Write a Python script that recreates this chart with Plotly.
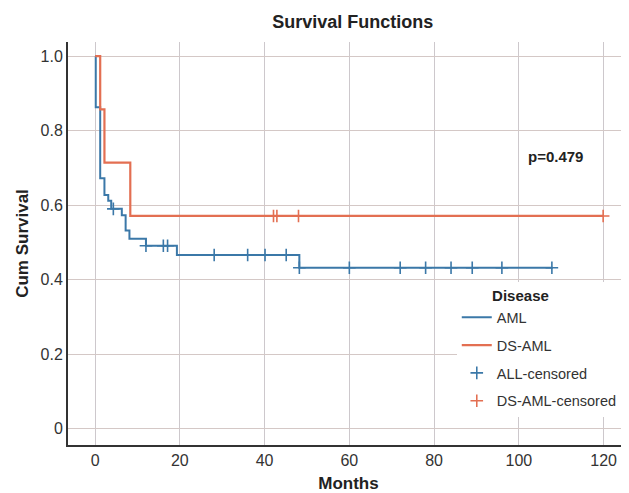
import plotly.graph_objects as go

# ---- data ----
aml_times = [0, 0.15, 1.2, 2.2, 3.1, 3.8, 6.3, 7.2, 8.1, 12.0, 19.3, 48.2, 108.0]
aml_surv = [1.0, 0.863, 0.672, 0.627, 0.612, 0.59, 0.573, 0.532, 0.51, 0.491, 0.466, 0.432, 0.432]
aml_censor_times = [4.3, 12.0, 16.1, 17.1, 28.1, 36.0, 40.1, 45.1, 48.2, 60.0, 72.0, 78.0, 84.0, 89.0, 96.0, 107.8]

dsaml_times = [0, 1.2, 2.2, 8.3, 120.0]
dsaml_surv = [1.0, 0.857, 0.714, 0.571, 0.571]
dsaml_censor_times = [42.1, 42.9, 48.0, 119.9]

x_ticks = [0, 20, 40, 60, 80, 100, 120]
y_ticks = [0, 0.2, 0.4, 0.6, 0.8, 1.0]
y_ticktext = ["0", "0.2", "0.4", "0.6", "0.8", "1.0"]
p_text = "p=0.479"

BLUE = "#3b78a8"
RED = "#e36f52"
FONT = "Liberation Sans, Arial, sans-serif"


def step_value(times, surv, t):
    idx = 0
    for i, tt in enumerate(times):
        if tt <= t:
            idx = i
    return surv[idx]


aml_censor_surv = [step_value(aml_times, aml_surv, t) for t in aml_censor_times]
dsaml_censor_surv = [step_value(dsaml_times, dsaml_surv, t) for t in dsaml_censor_times]

fig = go.Figure()
fig.add_trace(go.Scatter(x=aml_times, y=aml_surv, mode="lines", line=dict(color=BLUE, width=2, shape="hv"),
                         name="AML", legendgroup="a"))
fig.add_trace(go.Scatter(x=dsaml_times, y=dsaml_surv, mode="lines", line=dict(color=RED, width=2.2, shape="hv"),
                         name="DS-AML", legendgroup="b"))
fig.add_trace(go.Scatter(x=aml_censor_times, y=aml_censor_surv, mode="markers",
                         marker=dict(symbol="cross-thin", size=9, line=dict(color=BLUE, width=1.6), color=BLUE),
                         name="ALL-censored", legendgroup="c"))
fig.add_trace(go.Scatter(x=dsaml_censor_times, y=dsaml_censor_surv, mode="markers",
                         marker=dict(symbol="cross-thin", size=9, line=dict(color=RED, width=1.6), color=RED),
                         name="DS-AML-censored", legendgroup="d"))

fig.add_annotation(x=108.6, y=0.73, text="<b>" + p_text + "</b>", showarrow=False,
                   font=dict(size=15, color="#222", family=FONT))

# page body has an 8px default margin, so the figure is sized to fit the window
fig.update_layout(
    width=621, height=485,
    margin=dict(l=60, r=0, t=34, b=48, autoexpand=False),
    paper_bgcolor="white", plot_bgcolor="white",
    font=dict(family=FONT, color="#333"),
    title=dict(text="<b>Survival Functions</b>", x=0.555, xanchor="center", y=0.972, yanchor="middle",
               font=dict(size=18, color="#222", family=FONT)),
    legend=dict(title=dict(text="&nbsp;" * 8 + "<b>Disease</b>", font=dict(size=15, color="#222")),
                x=0.693, y=0.405, xanchor="left", yanchor="top",
                bgcolor="white", font=dict(size=14.5, color="#333"),
                traceorder="grouped", tracegroupgap=6, itemwidth=30),
    xaxis=dict(range=[-6.4, 126], tickvals=x_ticks, showgrid=True, gridcolor="#cdc8cc", gridwidth=1,
               zeroline=False, showline=True, linecolor="#333", linewidth=2, ticks="",
               tickfont=dict(size=16, color="#333"), automargin=False,
               title=dict(text="<b>Months</b>", font=dict(size=17, color="#222"), standoff=16)),
    yaxis=dict(range=[-0.044, 1.038], tickvals=y_ticks, ticktext=y_ticktext, showgrid=True,
               gridcolor="#d4c8c6", gridwidth=1, zeroline=False, showline=True, linecolor="#333",
               linewidth=2, ticks="", tickfont=dict(size=16, color="#333"), automargin=False,
               title=dict(text="<b>Cum Survival</b>", font=dict(size=17, color="#222"), standoff=8)),
)

fig.write_html("out.html")
